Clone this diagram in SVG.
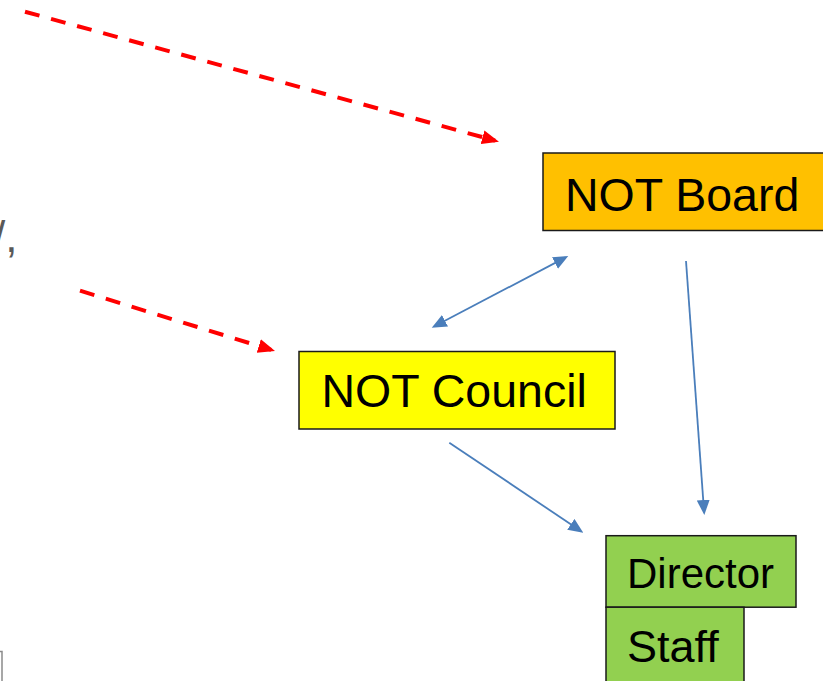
<svg xmlns="http://www.w3.org/2000/svg" width="823" height="681" viewBox="0 0 823 681">
<style>
.box{stroke:#1a1a1a;stroke-width:1.5}
.lbl{font-family:"Liberation Sans",Arial,sans-serif;fill:#000}
.red{fill:none;stroke:#ff0000;stroke-width:4;stroke-dasharray:15 12}
.blue{fill:none;stroke:#4a7ebb;stroke-width:1.8}
</style>
<defs>
<marker id="redHead" markerUnits="userSpaceOnUse" markerWidth="18" markerHeight="15" refX="13" refY="7" orient="auto">
<path d="M0,0 L17,7 L0,14 z" fill="#ff0000"/>
</marker>
<marker id="blueHead" markerUnits="userSpaceOnUse" markerWidth="16" markerHeight="14" refX="12" refY="6.5" orient="auto-start-reverse">
<path d="M0,0 L15,6.5 L0,13 z" fill="#4a7ebb"/>
</marker>
</defs>
<rect x="-10" y="651.5" width="12" height="40" fill="none" stroke="#8a8a8a" stroke-width="1.5"/>
<text x="-7" y="252" font-family="Liberation Sans,Arial,sans-serif" font-size="44" fill="#595959">/,</text>
<g id="connectors">
<path class="red" d="M25,11.7 L495.1,140.6" marker-end="url(#redHead)"/>
<path class="red" d="M80,290.7 L271.2,349.8" marker-end="url(#redHead)"/>
<path class="blue" d="M434.4,326.3 L565.6,257.4" marker-start="url(#blueHead)" marker-end="url(#blueHead)"/>
<path class="blue" d="M686,261 L704.1,512" marker-end="url(#blueHead)"/>
<path class="blue" d="M449.3,442.7 L580.8,531" marker-end="url(#blueHead)"/>
</g>
<g id="board">
<rect class="box" x="543" y="153" width="300" height="77.5" fill="#ffc000"/>
<text class="lbl" x="565" y="210.5" font-size="46.5">NOT Board</text>
</g>
<g id="council">
<rect class="box" x="299" y="351.5" width="316" height="77.5" fill="#ffff00"/>
<text class="lbl" x="321.5" y="406.5" font-size="46.5">NOT Council</text>
</g>
<g id="director">
<rect class="box" x="606" y="535.7" width="190" height="71.5" fill="#92d050"/>
<text class="lbl" x="627" y="587.5" font-size="42">Director</text>
</g>
<g id="staff">
<rect class="box" x="606" y="607.2" width="138" height="80" fill="#92d050"/>
<text class="lbl" x="627" y="661.5" font-size="45">Staff</text>
</g>
</svg>
